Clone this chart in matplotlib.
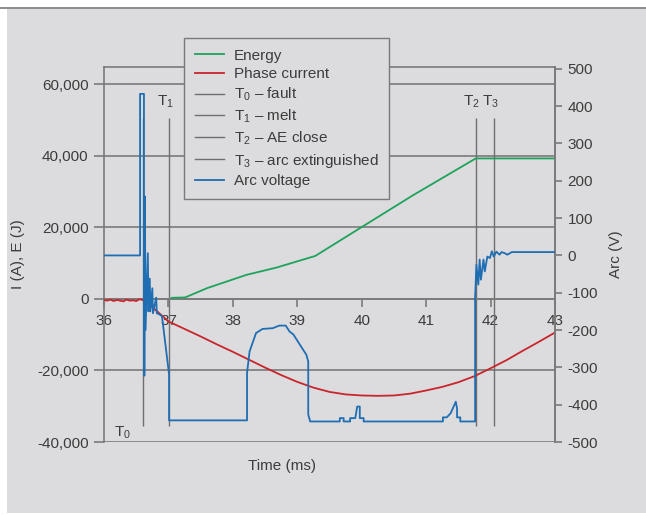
import matplotlib
matplotlib.use('Agg')
import matplotlib.pyplot as plt
from matplotlib.lines import Line2D
import numpy as np

plt.rcParams['font.family'] = ['Liberation Sans', 'DejaVu Sans']
plt.rcParams['mathtext.fontset'] = 'custom'
plt.rcParams['mathtext.rm'] = 'Liberation Sans'
plt.rcParams['mathtext.it'] = 'Liberation Sans'
plt.rcParams['axes.unicode_minus'] = False

# energy (J) vs time (ms)
energy_t = [37.05, 37.26, 37.6, 38.21, 38.68, 39.28, 40.03, 40.8, 41.77, 43.0]
energy_v = [300, 400, 3000, 6700, 8760, 12000, 20400, 29000, 39250, 39250]

# phase current (A)
cur_t = [36.0, 36.05, 36.1, 36.15, 36.2, 36.25, 36.3, 36.35, 36.4, 36.45, 36.5, 36.55, 36.6,
         36.74, 36.82, 37.0, 37.25, 37.5, 37.75, 38.0, 38.25, 38.5, 38.75, 39.0, 39.25, 39.5,
         39.75, 40.0, 40.25, 40.5, 40.75, 41.0, 41.25, 41.5, 41.75, 42.0, 42.25, 42.5, 42.75, 43.0]
cur_v = [-300, -500, -200, -600, -300, -500, -700, -200, -500, -400, -600, -100, -300,
         -2200, -3400, -6300, -8400, -10500, -12700, -14800, -17000, -19200, -21300, -23200,
         -24800, -26000, -26700, -27000, -27100, -27000, -26500, -25600, -24600, -23300,
         -21600, -19400, -17100, -14500, -12000, -9400]

# arc voltage (V)
arc_t = [36.0, 36.56, 36.56, 36.62, 36.62, 36.63, 36.635, 36.645, 36.68, 36.69, 36.71,
         36.72, 36.75, 36.76, 36.81, 36.82, 36.86, 36.90, 37.01, 37.01,
         38.22, 38.22, 38.26, 38.36, 38.46, 38.62, 38.72, 38.82, 38.88, 38.94, 39.04, 39.14,
         39.17, 39.17, 39.2, 39.66, 39.66, 39.72, 39.72, 39.82, 39.82, 39.9, 39.93, 39.97,
         39.97, 40.03, 40.03, 41.26, 41.26, 41.32, 41.38, 41.44, 41.46, 41.48, 41.48, 41.53,
         41.53, 41.76, 41.76, 41.78, 41.81, 41.83, 41.85, 41.89, 41.91, 41.95, 41.99,
         42.02, 42.05, 42.09, 42.14, 42.17, 42.22, 42.26, 42.33, 43.0]
arc_v = [0, 0, 433, 433, -322, -322, 158, -200, 6, -150, -62, -150, -88, -155, -113,
         -155, -158, -163, -319, -442,
         -442, -315, -257, -208, -197, -195, -188, -188, -204, -212, -239, -266,
         -284, -426, -445, -445, -436, -436, -445, -445, -436, -436, -405, -405,
         -436, -436, -445, -445, -434, -434, -423, -400, -392, -410, -434, -434,
         -445, -445, -114, -25, -78, -11, -65, -11, -43, -3, -7,
         11, -3, 10, 2, 9, 6, 2, 9, 9]

t_marks = [36.61, 37.01, 41.77, 42.05]
t_names = ['0', '1', '2', '3']

bg = '#dcdcde'
grey = '#7a7a7a'
txt = '#3c3c3c'

fig = plt.figure(figsize=(6.46, 5.15), dpi=100, facecolor='white')
fig.patches.append(plt.Rectangle((7 / 646, 0.003), 1, 1 - 9 / 515 - 0.003,
                                 transform=fig.transFigure, facecolor=bg, edgecolor='none', zorder=-10))
fig.add_artist(Line2D([0, 1], [1 - 8 / 515] * 2, color='#8a8a8a', lw=1.4))

ax = fig.add_axes([104 / 646, 1 - 442 / 515, 451 / 646, 375 / 515])
ax.set_facecolor(bg)
ax2 = ax.twinx()

ax.set_xlim(36, 43)
ax.set_ylim(-40000, 64800)
ax2.set_ylim(-500, 505)

ax.set_yticks([-40000, -20000, 0, 20000, 40000, 60000])
ax.set_yticklabels(['-40,000', '-20,000', '0', '20,000', '40,000', '60,000'])
ax.set_xticks(range(36, 44))
ax2.set_yticks(range(-500, 501, 100))

ax.grid(axis='y', color=grey, lw=1.2)
ax.set_axisbelow(True)
ax.spines['bottom'].set_position(('data', 0))
for s in ax.spines.values():
    s.set_color(grey)
    s.set_linewidth(1.2)
for s in ax2.spines.values():
    s.set_visible(False)
ax2.spines['right'].set_visible(True)
ax2.spines['right'].set_color(grey)
ax2.spines['right'].set_linewidth(1.2)

ax.tick_params(axis='y', colors=grey, labelcolor=txt, labelsize=11, length=7, width=1.2, pad=4)
ax.tick_params(axis='x', colors=grey, labelcolor=txt, labelsize=11, length=6, width=1.2, pad=5)
ax2.tick_params(axis='y', colors=grey, labelcolor=txt, labelsize=11, length=5, width=1.2, pad=4)

# T markers
for tm in t_marks:
    ax.vlines(tm, -35500, 50500, color='#6e6e6e', lw=1.0, zorder=2)
ax.text(t_marks[0] - 0.45, -38500, 'T$_0$', fontsize=11, color=txt)
for tm, nm in zip(t_marks[1:], t_names[1:]):
    ax.text(tm - 0.06, 54000, 'T$_' + nm + '$', fontsize=11, color=txt, ha='center')

ax.plot(energy_t, energy_v, color='#1ea35b', lw=1.3, zorder=3)
ax.plot(cur_t, cur_v, color='#c9252c', lw=1.3, zorder=3)
ax2.plot(arc_t, arc_v, color='#1f6db3', lw=1.3, zorder=3)

ax.set_xlabel('Time (ms)', fontsize=11, color=txt)
ax.xaxis.set_label_coords(0.395, -0.045)
ax.set_ylabel('I (A), E (J)', fontsize=11, color=txt, labelpad=9)
ax2.set_ylabel('Arc (V)', fontsize=11, color=txt, labelpad=8)

handles = [Line2D([], [], color='#1ea35b', lw=1.3),
           Line2D([], [], color='#c9252c', lw=1.3),
           Line2D([], [], color='#6e6e6e', lw=1.0),
           Line2D([], [], color='#6e6e6e', lw=1.0),
           Line2D([], [], color='#6e6e6e', lw=1.0),
           Line2D([], [], color='#6e6e6e', lw=1.0),
           Line2D([], [], color='#1f6db3', lw=1.3)]
labels = ['Energy', 'Phase current', 'T$_0$ – fault', 'T$_1$ – melt', 'T$_2$ – AE close',
          'T$_3$ – arc extinguished', 'Arc voltage']
leg = fig.legend(handles, labels, loc='upper left', bbox_to_anchor=(184 / 646, 1 - 38 / 515),
                 borderaxespad=0, fancybox=False, framealpha=1, facecolor=bg, edgecolor=grey,
                 fontsize=11, handlelength=1.9, labelspacing=0.3, handletextpad=0.65,
                 borderpad=0.7, labelcolor=txt)
leg.get_frame().set_linewidth(1.0)
leg.set_zorder(20)

fig.savefig('out.png', dpi=100, facecolor='white')
